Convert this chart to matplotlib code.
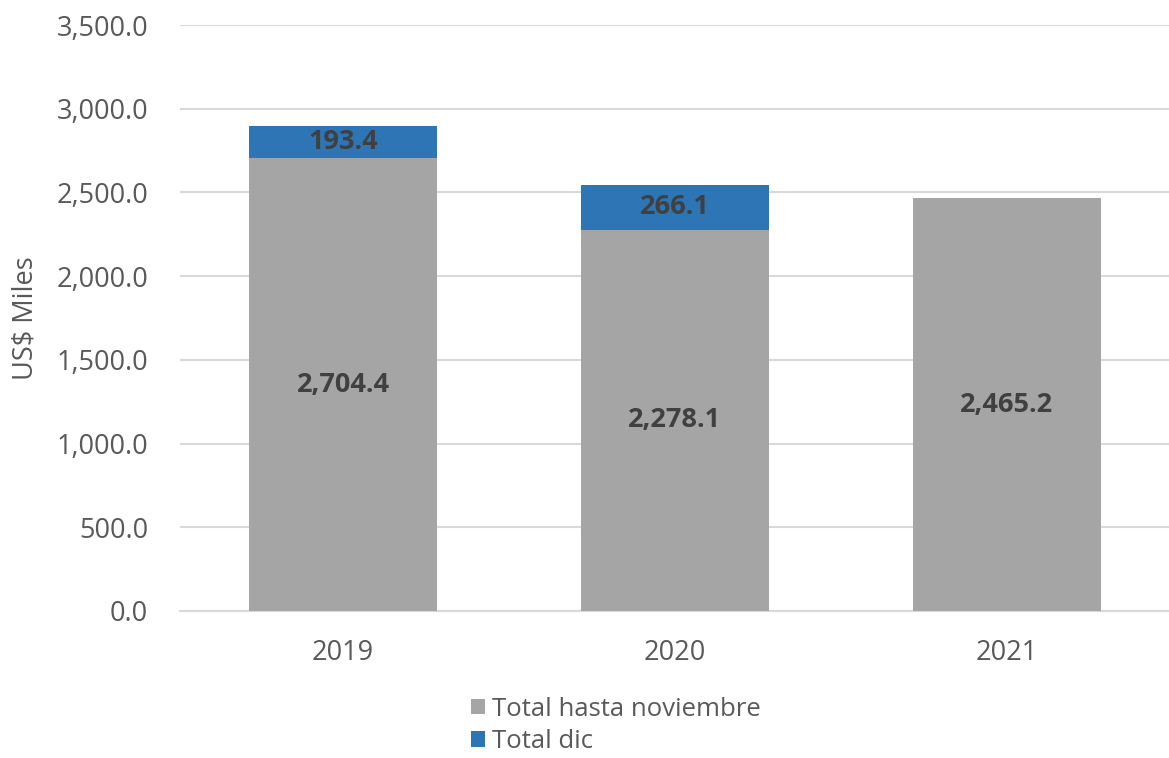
import numpy as np
import matplotlib.pyplot as plt

years = ['2019', '2020', '2021']
hasta_nov = [2704.4, 2278.1, 2465.2]
total_dic = [193.4, 266.1, 0.0]
yticks = [0, 500, 1000, 1500, 2000, 2500, 3000, 3500]

plt.rcParams['font.family'] = ['Open Sans', 'DejaVu Sans']
fs = 19.5

fig = plt.figure(figsize=(11.69, 7.58), dpi=100)
ax = fig.add_axes([0.154, 0.194, 0.849, 0.773])

x = np.arange(len(years))
w = 0.567
b1 = ax.bar(x, hasta_nov, w, color='#A5A5A5', label='Total hasta noviembre', zorder=3)
b2 = ax.bar(x, total_dic, w, bottom=hasta_nov, color='#2E75B6', label='Total dic', zorder=3)

for i in range(len(years)):
    ax.text(x[i], hasta_nov[i] / 2, f'{hasta_nov[i]:,.1f}', ha='center', va='center',
            fontsize=fs, fontweight='bold', color='#404040', zorder=4)
    if total_dic[i] > 0:
        ax.text(x[i], hasta_nov[i] + total_dic[i] / 2, f'{total_dic[i]:,.1f}', ha='center',
                va='center', fontsize=fs, fontweight='bold', color='#404040', zorder=4)

ax.set_xlim(-0.491, 2.5)
ax.set_ylim(0, 3500)
ax.set_yticks(yticks)
ax.set_yticklabels([f'{v:,.1f}' for v in yticks])
ax.set_xticks(x)
ax.set_xticklabels(years)
ax.tick_params(axis='both', length=0, labelsize=fs, labelcolor='#595959')
ax.tick_params(axis='y', pad=23)
ax.tick_params(axis='x', pad=20)
ax.grid(axis='y', color='#D9D9D9', linewidth=1.5, zorder=0)
for s in ['top', 'right', 'left']:
    ax.spines[s].set_visible(False)
ax.spines['bottom'].set_color('#D9D9D9')
ax.spines['bottom'].set_linewidth(1.5)
ax.set_ylabel('US$ Miles', fontsize=fs, color='#595959', labelpad=12)

fig.legend(handles=[b1, b2], loc='upper left', bbox_to_anchor=(0.392, 0.098), ncol=1,
           frameon=False, fontsize=18.5, labelcolor='#595959', handlelength=0.55,
           handleheight=0.55, handletextpad=0.25, labelspacing=0.3, borderpad=0)

fig.savefig('out.png', dpi=100)
